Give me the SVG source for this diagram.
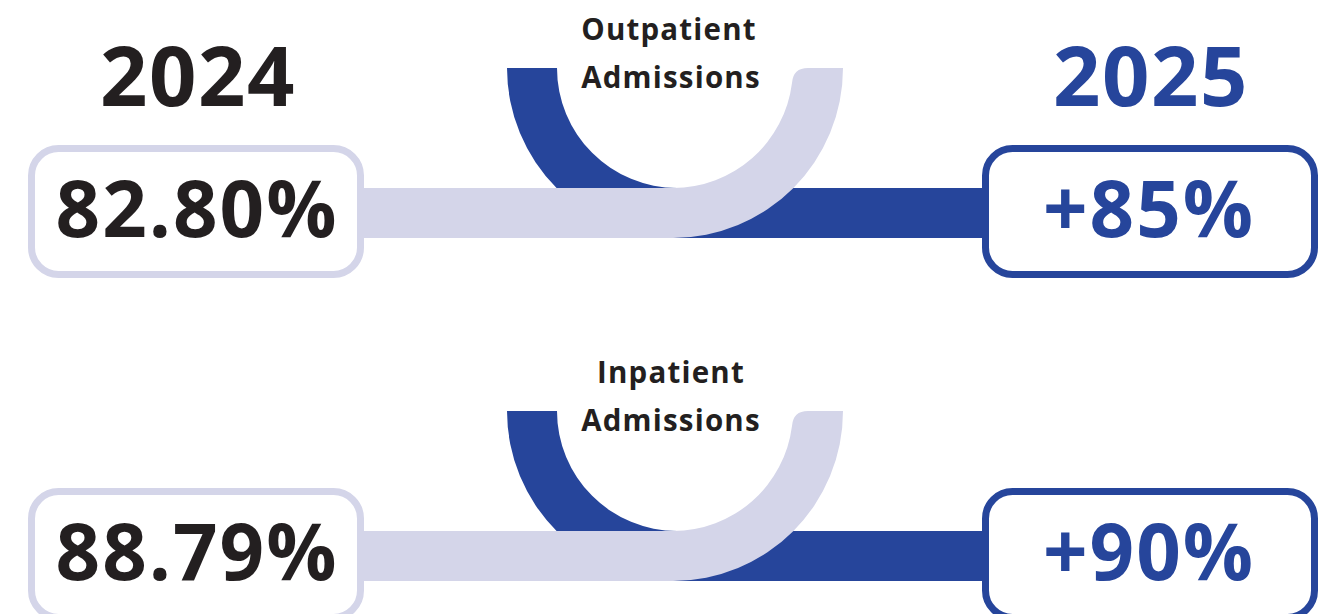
<svg xmlns="http://www.w3.org/2000/svg" width="1323" height="614" viewBox="0 0 1323 614">
  <style>
    .blue { fill: #26459b; }
    .pale { fill: #d4d5e9; }
    .box-old { fill: #ffffff; stroke: #d4d5e9; stroke-width: 7; }
    .box-new { fill: #ffffff; stroke: #26459b; stroke-width: 7; }
    .year { font-family: "Open Sans", "Noto Sans", sans-serif; font-weight: 700; font-size: 83px; text-anchor: middle; letter-spacing: 1.5px; }
    .value { font-family: "Open Sans", "Noto Sans", sans-serif; font-weight: 700; font-size: 78px; text-anchor: middle; letter-spacing: 2px; }
    .label { font-family: "Open Sans", "Noto Sans", sans-serif; font-weight: 700; font-size: 29.5px; text-anchor: middle; fill: #231f20; letter-spacing: 1.2px; }
    .dark { fill: #231f20; }
    .accent { fill: #26459b; }
  </style>
  <defs>
    <!-- one comparison row: blue 2025 band under, pale 2024 band over -->
    <g id="bands">
      <path class="blue" d="M507 68 L557 68 A120 120 0 0 0 677 188 L986 188 L986 238 L677 238 A170 170 0 0 1 507 68 Z"/>
      <path class="pale" d="M360 188 L673 188 A120 120 0 0 0 792 83 Q793 68 808 68 L843 68 A170 170 0 0 1 673 238 L360 238 Z"/>
    </g>
  </defs>

  <g id="connectors">
    <use href="#bands"/>
    <use href="#bands" transform="translate(0 343)"/>
  </g>

  <g id="year-2024">
    <text class="year dark" x="198" y="106">2024</text>
  </g>
  <g id="year-2025">
    <text class="year accent" x="1151" y="106">2025</text>
  </g>

  <g id="outpatient-label">
    <text class="label" x="669" y="40">Outpatient</text>
    <text class="label" x="671" y="88">Admissions</text>
  </g>
  <g id="outpatient-2024">
    <rect class="box-old" x="31.5" y="148.5" width="329" height="126" rx="27"/>
    <text class="value dark" x="197" y="237">82.80%</text>
  </g>
  <g id="outpatient-2025">
    <rect class="box-new" x="985.5" y="148.5" width="329" height="126" rx="27"/>
    <text class="value accent" x="1149" y="237" letter-spacing="1">+85%</text>
  </g>

  <g id="inpatient-label">
    <text class="label" x="671" y="383">Inpatient</text>
    <text class="label" x="671" y="431">Admissions</text>
  </g>
  <g id="inpatient-2024">
    <rect class="box-old" x="31.5" y="491.5" width="329" height="126" rx="27"/>
    <text class="value dark" x="197" y="580">88.79%</text>
  </g>
  <g id="inpatient-2025">
    <rect class="box-new" x="985.5" y="491.5" width="329" height="126" rx="27"/>
    <text class="value accent" x="1149" y="580" letter-spacing="1">+90%</text>
  </g>
</svg>
